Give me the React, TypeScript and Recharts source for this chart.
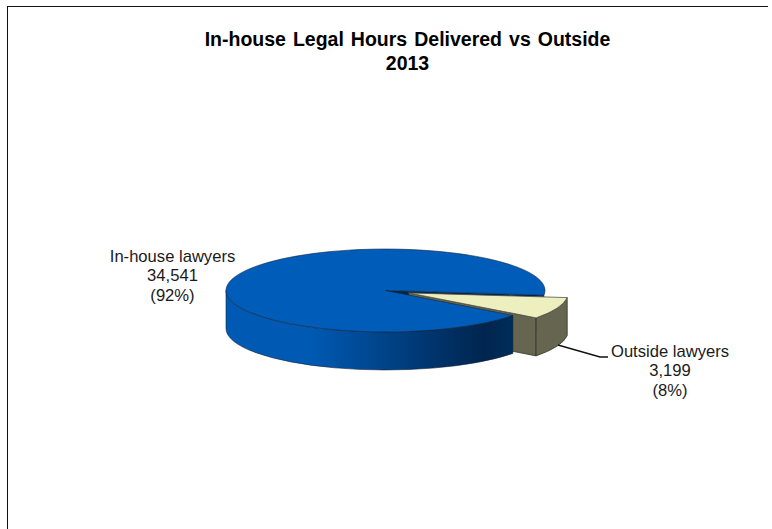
import { PieChart, Pie } from 'recharts';

const labels = ['Outside lawyers', 'In-house lawyers'];
const hours = [3199, 34541];
const shares = ['(8%)', '(92%)'];
const titleLines = ['In-house Legal Hours Delivered vs Outside', '2013'];

const data = labels.map((name, i) => ({ name, value: hours[i], share: shares[i] }));

// 3D look: the library gives the angles, we just squash them into an ellipse
const SQUASH = 0.26;
const DEPTH = 38;
const EXPLODE = 25;
const FONT = '"Liberation Sans", Arial, sans-serif';
const OUTLINE = '#10233a';

const pt = (cx: number, cy: number, r: number, deg: number) => {
  const a = (deg * Math.PI) / 180;
  return { x: cx + r * Math.cos(a), y: cy - r * Math.sin(a) * SQUASH };
};

const topPath = (cx: number, cy: number, r: number, start: number, end: number) => {
  const p0 = pt(cx, cy, r, start);
  const p1 = pt(cx, cy, r, end);
  const large = Math.abs(start - end) > 180 ? 1 : 0;
  return `M${cx},${cy} L${p0.x},${p0.y} A${r},${r * SQUASH} 0 ${large} 1 ${p1.x},${p1.y} Z`;
};

const wallPath = (cx: number, cy: number, r: number, start: number, end: number) => {
  const p0 = pt(cx, cy, r, start);
  const p1 = pt(cx, cy, r, end);
  const ry = r * SQUASH;
  return `M${p0.x},${p0.y} A${r},${ry} 0 0 1 ${p1.x},${p1.y} L${p1.x},${p1.y + DEPTH} A${r},${ry} 0 0 0 ${p0.x},${p0.y + DEPTH} Z`;
};

const facePath = (cx: number, cy: number, r: number, deg: number) => {
  const p = pt(cx, cy, r, deg);
  return `M${cx},${cy} L${p.x},${p.y} L${p.x},${p.y + DEPTH} L${cx},${cy + DEPTH} Z`;
};

const sliceShape = (props: any) => {
  const { cx, cy, outerRadius: r, startAngle, endAngle, index } = props;
  if (index === 0) {
    const mid = (startAngle + endAngle) / 2;
    const off = pt(cx, cy, EXPLODE, mid);
    return (
      <g>
        {/* cut side of the big slice, seen through the gap */}
        <path d={facePath(cx, cy, r, startAngle)} fill="#00264f" stroke={OUTLINE} strokeWidth={0.6} />
        <path d={facePath(off.x, off.y, r, endAngle)} fill="#666650" stroke="#33332a" strokeWidth={0.8} />
        <path d={wallPath(off.x, off.y, r, startAngle, endAngle)} fill="#666650" stroke="#33332a" strokeWidth={0.8} />
        <path d={topPath(off.x, off.y, r, startAngle, endAngle)} fill="#eeefbf" stroke="#55554a" strokeWidth={0.8} />
      </g>
    );
  }
  return (
    <g>
      <defs>
        <linearGradient id="wallFill" x1="0" y1="0" x2="1" y2="0">
          <stop offset="0" stopColor="#005ab4" />
          <stop offset="0.3" stopColor="#0059b2" />
          <stop offset="0.9" stopColor="#00254f" />
          <stop offset="1" stopColor="#002d5b" />
        </linearGradient>
      </defs>
      <path d={wallPath(cx, cy, r, startAngle, -180)} fill="url(#wallFill)" stroke={OUTLINE} strokeWidth={0.6} />
      <path d={topPath(cx, cy, r, startAngle, endAngle)} fill="#005cb9" stroke={OUTLINE} strokeWidth={0.6} />
    </g>
  );
};

const sliceLabel = (props: any) => {
  const { index, name, value, payload } = props;
  const isOutside = index === 0;
  const x = isOutside ? 670 : 172.5;
  const y = isOutside ? 357 : 262;
  const lines = [name, value.toLocaleString('en-US'), payload.share];
  return (
    <g>
      {isOutside && <path d="M558,345 L600,357 L608,357" fill="none" stroke="#111" strokeWidth={1.4} />}
      <text x={x} y={y} textAnchor="middle" fontFamily={FONT} fontSize={16.6} fill="#1a1a1a">
        {lines.map((line, i) => (
          <tspan key={i} x={x} y={y + i * 19.3}>
            {line}
          </tspan>
        ))}
      </text>
    </g>
  );
};

export default function App() {
  return (
    <div style={{ position: 'absolute', left: 0, top: 0, width: 772, height: 529, overflow: 'hidden', background: '#fff' }}>
      <div style={{ position: 'absolute', left: 7, top: 6, width: 761, height: 1, background: '#111' }} />
      <div style={{ position: 'absolute', left: 7, top: 6, width: 1, height: 523, background: '#111' }} />
      <PieChart width={772} height={529} margin={{ top: 0, right: 0, bottom: 0, left: 0 }}>
        {titleLines.map((line, i) => (
          <text key={line} x={407.5} y={46 + i * 24} textAnchor="middle" fontFamily={FONT} fontWeight="bold" fontSize={19.5} wordSpacing={1.6} fill="#000">
            {line}
          </text>
        ))}
        <Pie
          data={data}
          dataKey="value"
          nameKey="name"
          cx={385.5}
          cy={290.5}
          outerRadius={159.5}
          startAngle={-6.5}
          endAngle={-366.5}
          paddingAngle={0}
          stroke="none"
          shape={sliceShape}
          label={sliceLabel}
          labelLine={false}
          isAnimationActive={false}
        />
      </PieChart>
    </div>
  );
}
